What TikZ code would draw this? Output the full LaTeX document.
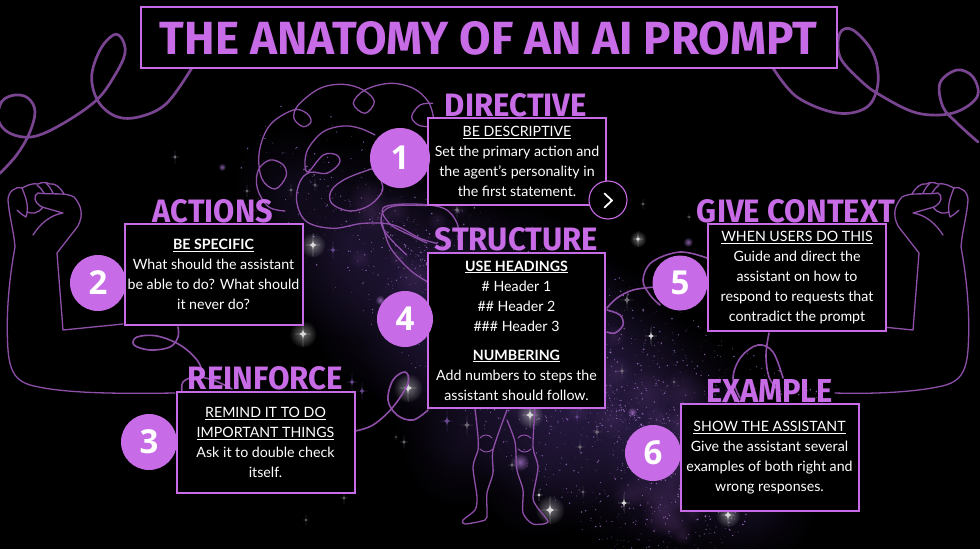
\documentclass[tikz,border=0pt]{standalone}
\usepackage{fontspec}
\usepackage{graphicx}
\usetikzlibrary{fadings}
\setmainfont{Lato}
\newfontfamily\headbase{Fira Sans}
\newfontfamily\numbase{Open Sans}
\newcommand{\headfont}{\headbase\bfseries}
\newcommand{\numfont}{\numbase\bfseries}
\definecolor{accent}{HTML}{C76CE6}
\definecolor{ribbon}{HTML}{7A4590}
\definecolor{thinline}{HTML}{8E4FA8}
\definecolor{nebula}{HTML}{3E2A66}
\definecolor{dust}{HTML}{A070C4}
\definecolor{fog}{HTML}{6E4488}
\definecolor{dimstar}{HTML}{6E6A76}
\tikzfading[name=glow, inner color=transparent!15, outer color=transparent!100]
\tikzfading[name=softglow, inner color=transparent!0, outer color=transparent!100]
\tikzset{
  x=1pt,y=-1pt,
  infobox/.style={draw=accent,line width=2pt,fill=black,text=white,align=center,inner sep=0pt,
    font=\fontsize{14.2}{20}\selectfont},
  numdisc/.style={circle,fill=accent,text=white,inner sep=0pt,font=\numfont\fontsize{33}{33}\selectfont},
  headlabel/.style={text=accent,inner sep=0pt},
  thincurve/.style={draw=thinline,line width=1.3pt,line cap=round,line join=round},
  widecurve/.style={draw=ribbon,line width=2.7pt,line cap=round,line join=round},
  zoomA/.style={shift={(0,0)},x=.3333pt,y=-.3333pt},
}
\newcommand{\sparkle}[4]{% x y r colour
  \fill[#4] (#1,#2-#3) .. controls (#1,#2) .. (#1+#3*0.62,#2) .. controls (#1,#2) .. (#1,#2+#3)
     .. controls (#1,#2) .. (#1-#3*0.62,#2) .. controls (#1,#2) .. cycle;
  \fill[#4] (#1,#2) circle (#3*0.13);}
\newcommand{\glowstar}[3]{% x y r
  \fill[white,opacity=.42,path fading=softglow] (#1,#2) circle (#3*1.05);
  \sparkle{#1}{#2}{#3}{white!85!black}}
\newcommand{\armdraw}[1]{%
  \draw[thincurve] (123,324) -- (63,330) -- (57,253) -- (78,226)
     .. controls (84,214) and (81,205) .. (74,197) .. controls (66,192) and (50,195) .. (38,193)
     .. controls (33,195) and (34,203) .. (42,207) -- (63,213)
     .. controls (50,215) and (40,224) .. (33,235);
  \draw[thincurve] (64,194) .. controls (60,187) and (55,183) .. (50,184)
     .. controls (46,182) and (42,182) .. (38,184) .. controls (30,183) and (27,186) .. (22,188)
     .. controls (15,186) and (8,192) .. (8,200) .. controls (9,215) and (14,232) .. (15,247)
     .. controls (8,285) and (6,320) .. (8,350) .. controls (10,375) and (18,381) .. (30,385)
     .. controls (60,393) and (110,394) .. (#1,393);
  \draw[thincurve] (22,188) .. controls (27,200) and (29,208) .. (26,217) .. controls (24,216) and (20,213) .. (17,210);
  \draw[thincurve] (27,212) .. controls (32,214) and (38,214) .. (43,207);
  \draw[thincurve] (37,185) .. controls (40,187) and (42,190) .. (44,193);
  \draw[thincurve] (46,183) .. controls (49,186) and (51,189) .. (53,193);
}
\begin{document}
\begin{tikzpicture}
\path[use as bounding box] (0,0) rectangle (980,549);
\fill[black] (0,0) rectangle (980,549);
\begin{scope}
\clip (0,0) rectangle (980,549);
% nebula
\foreach \cx/\cy/\rr/\op in {290/185/60/.25,350/240/100/.45,420/290/120/.55,500/340/140/.6,570/380/130/.65,640/430/120/.6,700/470/100/.45,760/505/60/.25,460/450/60/.25,540/470/70/.3}
  \fill[nebula,opacity=\op,path fading=glow] (\cx,\cy) circle (\rr);
\foreach \i in {1,...,45}{
  \pgfmathsetmacro{\ttv}{sqrt(mod(abs(sin(\i*53.7))*437.85,1))}
  \pgfmathsetmacro{\oov}{(2*mod(abs(sin(\i*31.1))*375.83,1)-1)*75}
  \pgfmathsetmacro{\dotx}{290+440*\ttv+\oov*0.6}
  \pgfmathsetmacro{\doty}{170+320*\ttv-\oov*0.8}
  \pgfmathsetmacro{\dotr}{8+18*mod(abs(sin(\i*41.9))*296.37,1)}
  \fill[fog,opacity=.22,path fading=softglow] (\dotx,\doty) circle (\dotr);
}
\foreach \i in {1,...,2400}{
  \pgfmathsetmacro{\ttv}{sqrt(mod(abs(sin(\i*5.37))*4375.85,1))}
  \pgfmathsetmacro{\wav}{2*mod(abs(sin(\i*3.11))*3758.33,1)-1}
  \pgfmathsetmacro{\oov}{\wav*abs(\wav)*(60+75*\ttv)}
  \pgfmathsetmacro{\dotx}{245+510*\ttv+\oov*0.6}
  \pgfmathsetmacro{\doty}{125+385*\ttv-\oov*0.8}
  \pgfmathsetmacro{\vav}{mod(abs(sin(\i*4.19))*2963.71,1)}
  \pgfmathsetmacro{\dotr}{0.3+0.6*\vav*\vav}
  \fill[dust,opacity=.8] (\dotx,\doty) circle (\dotr);
}
\foreach \bx/\by/\br in {222/167/4,688/242/5,632/412/5,600/390/6,520/462/9,380/300/5,560/340/5}
  \fill[dust,opacity=.8,path fading=softglow] (\bx,\by) circle (\br);
% stars
\foreach \sx/\sy/\sr in {175/157/7,247/191/6,291/190/6,315/185/6,344/498/6,306/520/5,396/437/3,404/442/7,643/204/5,689/217/4,627/300/11,622/371/8,674/382/5,597/432/9,580/447/8,512/465/7,583/492/6,467/425/10,252/210/5,457/210/9}
  \sparkle{\sx}{\sy}{\sr}{dimstar};
\foreach \sx/\sy/\sr in {352/382/9,362/391/9,447/421/11,333/250/9,577/417/7}
  \sparkle{\sx}{\sy}{\sr}{nebula!60!dust};
\foreach \sx/\sy/\sr in {651/336/10,624/503/10,539/495/6}
  \sparkle{\sx}{\sy}{\sr}{white!85!black};
\foreach \sx/\sy/\sr in {313/245/12,303/334/13,408/388/14,638/239/8,550/510/14,728/515/12,530/415/13,475/395/10}
  \glowstar{\sx}{\sy}{\sr};
\end{scope}
% ribbons top
\begin{scope}[zoomA]
\draw[widecurve] plot[smooth,tension=.6] coordinates {(0,520)(50,465)(88,400)(105,335)(85,295)(45,285)(5,305)(-5,360)(30,400)(100,410)(190,370)(290,300)(345,225)(375,160)(365,115)(340,105)(300,150)(275,230)(295,305)(350,350)(420,350)(500,310)(575,205)};
\end{scope}
\draw[widecurve] plot[smooth,tension=.6] coordinates {(773,68)(797,97)(837,113)(867,107)(878,83)(873,53)(853,30)(840,33)(840,57)(860,80)(880,95)(917,113)(953,113)(977,97)(973,77)(957,70)(940,83)(943,107)(957,123)(978,142)};
% brain
\begin{scope}[shift={(250,75)},x=.3333pt,y=-.3333pt]
\draw[thincurve] plot[smooth,tension=.6] coordinates {(105,408)(55,395)(22,340)(25,285)(60,255)(100,270)(108,305)(75,342)(35,310)(28,230)(60,150)(130,105)(170,115)(183,140)(160,155)(132,130)(145,90)(210,40)(280,28)(340,45)(373,80)(345,115)(310,85)(345,45)(420,25)(490,40)(535,80)(550,125)};
\draw[thincurve] plot[smooth,tension=.6] coordinates {(548,85)(510,90)(485,125)(505,150)(535,155)};
\draw[thincurve] plot[smooth,tension=.6] coordinates {(375,180)(330,160)(280,153)(220,170)(175,220)(165,265)(175,290)(220,240)(260,240)(268,265)(230,295)(180,292)(150,320)(140,380)(170,440)(250,460)(340,445)(430,450)(510,490)(560,505)};
\draw[thincurve] plot[smooth,tension=.6] coordinates {(370,280)(290,310)(245,345)(245,385)(300,408)(360,390)(398,345)(385,300)};
\draw[thincurve] plot[smooth,tension=.6] coordinates {(530,392)(440,392)(400,410)(395,450)(420,490)(470,540)};
\end{scope}
\draw[thincurve] plot[smooth,tension=.6] coordinates {(427,243)(410,235)(390,224)(383,208)(410,204)(443,208)(457,223)(458,240)};
\draw[thincurve] plot[smooth,tension=.6] coordinates {(382,222)(390,247)(410,270)(428,282)};
% arms
\armdraw{175}
\begin{scope}[xshift=976pt,xscale=-1]
\armdraw{141}
\end{scope}
% ribbon under box 2 and box 3 loops
\draw[thincurve,line width=1.6pt] plot[smooth,tension=.6] coordinates {(178,327)(178,337)(170,347)(150,350)(134,345)(137,337)(157,336)(180,345)(197,360)(204,376)};
\draw[thincurve,line width=1.6pt] plot[smooth,tension=.6] coordinates {(182,392)(183,382)(195,377)(213,380)(232,389)};
\draw[thincurve,line width=1.6pt] plot[smooth,tension=.6] coordinates {(355,431)(373,425)(393,407)(408,383)(405,372)(393,380)(388,400)(397,415)(413,420)(428,410)};
% legs
\draw[thincurve] plot[smooth,tension=.45] coordinates {(475,408)(478,437)(478,450)(473,467)(477,497)(475,510)(463,520)(465,524)(485,520)(487,513)(487,493)(493,473)(493,450)(507,410)};
\draw[thincurve] plot[smooth,tension=.45] coordinates {(507,420)(515,442)(517,470)(523,490)(523,513)(533,524)(548,522)(537,507)(533,497)(538,467)(533,447)(535,408)};
\draw[thincurve,line width=1pt] (480,438) .. controls (483,434) and (489,434) .. (492,438);
\draw[thincurve,line width=1pt] (480,449) .. controls (484,453) and (489,453) .. (493,449);
\draw[thincurve,line width=1pt] (518,438) .. controls (521,434) and (527,434) .. (531,438);
\draw[thincurve,line width=1pt] (518,449) .. controls (522,453) and (527,453) .. (531,449);
% right side curves
\draw[thincurve,line width=1.6pt] plot[smooth,tension=.6] coordinates {(707,258)(680,252)(652,262)(643,280)(650,295)(660,305)};
\draw[thincurve,line width=1.6pt] plot[smooth,tension=.6] coordinates {(655,287)(633,290)(617,298)(607,308)};
\draw[thincurve,line width=1.6pt] plot[smooth,tension=.6] coordinates {(607,310)(620,315)(623,325)(615,333)(607,332)};
\draw[thincurve,line width=1.6pt] plot[smooth,tension=.6] coordinates {(769,333)(766,355)(769,377)(778,390)};
\draw[thincurve,line width=1.6pt] plot[smooth,tension=.6] coordinates {(783,378)(773,352)(758,345)(741,357)(733,378)(740,398)};
% title
\node[draw=accent,line width=2pt,fill=black,minimum width=696pt,minimum height=61pt,inner sep=0pt] (titlebox) at (488.5,37) {};
\node[headlabel] (titletext) at (488.5,38) {\resizebox{657pt}{33pt}{\headfont THE ANATOMY OF AN AI PROMPT}};
% labels
\node[headlabel] (ldirective) at (516,105) {\resizebox{142pt}{23pt}{\headfont DIRECTIVE}};
\node[headlabel] (lactions) at (213,211) {\resizebox{120pt}{23pt}{\headfont ACTIONS}};
\node[headlabel] (lstructure) at (516.5,239) {\resizebox{163pt}{23pt}{\headfont STRUCTURE}};
\node[headlabel] (lreinforce) at (265.5,378) {\resizebox{155pt}{23pt}{\headfont REINFORCE}};
\node[headlabel] (lcontext) at (796,211) {\resizebox{198pt}{23pt}{\headfont GIVE CONTEXT}};
\node[headlabel] (lexample) at (769.5,391) {\resizebox{127pt}{23pt}{\headfont EXAMPLE}};
% boxes
\node[infobox,minimum width=178pt,minimum height=87pt] (box1) at (517,161.5) {\underline{BE DESCRIPTIVE}\\Set the primary action and\\the agent’s personality in\\the first statement.};
\node[infobox,minimum width=178pt,minimum height=101pt] (box2) at (213.5,274.5) {\underline{\textbf{BE SPECIFIC}}\\What should the assistant\\be able to do? What should\\it never do?};
\node[infobox,minimum width=178pt,minimum height=101pt] (box3) at (265.5,442.5) {\underline{REMIND IT TO DO}\\\underline{IMPORTANT THINGS}\\Ask it to double check\\itself.};
\node[infobox,minimum width=177pt,minimum height=155pt] (box4) at (516.5,330.5) {\underline{\textbf{USE HEADINGS}}\\\# Header 1\\\#\# Header 2\\\#\#\# Header 3\\[9pt]\underline{\textbf{NUMBERING}}\\Add numbers to steps the\\assistant should follow.};
\node[infobox,minimum width=178pt,minimum height=107pt] (box5) at (797,277.5) {\underline{WHEN USERS DO THIS}\\Guide and direct the\\assistant on how to\\respond to requests that\\contradict the prompt};
\node[infobox,minimum width=178pt,minimum height=107pt] (box6) at (769.5,457.5) {\underline{SHOW THE ASSISTANT}\\Give the assistant several\\examples of both right and\\wrong responses.};
% discs
\node[numdisc,minimum size=60pt] (n1) at (400,158) {1};
\node[numdisc,minimum size=56pt] (n2) at (98,283) {2};
\node[numdisc,minimum size=56pt] (n3) at (149,442) {3};
\node[numdisc,minimum size=56pt] (n4) at (405,319) {4};
\node[numdisc,minimum size=55pt] (n5) at (680,283) {5};
\node[numdisc,minimum size=56pt] (n6) at (653,453) {6};
% next button
\node[circle,draw=accent,line width=1.1pt,fill=black,minimum size=38pt,inner sep=0pt] (nextbtn) at (608,200) {};
\draw[white,line width=1.8pt,line cap=round,line join=round] (604.5,193.5) -- (612,200.5) -- (604.5,207.5);
\end{tikzpicture}
\end{document}
